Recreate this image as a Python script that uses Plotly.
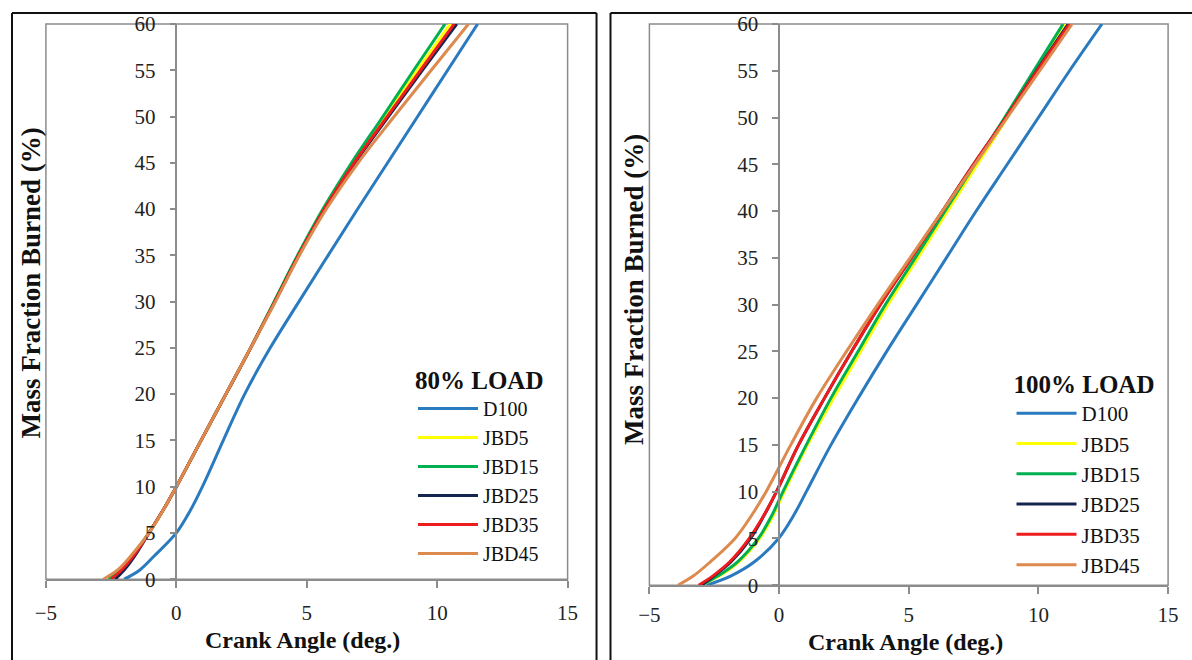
import plotly.graph_objects as go

W, H = 1192, 660
# The photographed page lands in the final picture slightly reduced and offset;
# layout positions below are given in final-picture pixels and mapped back to the page.
SX, OX = 0.984, 10.0
SY, OY = 0.965, 12.0

# ---------------- data ----------------
series_names = ["D100", "JBD5", "JBD15", "JBD25", "JBD35", "JBD45"]
series_colors = ["#2A7AC0", "#FFFF00", "#00B050", "#16254F", "#EE1C1C", "#DD8A4E"]

mfb_levels = [0, 1, 2.5, 5, 7.5, 10, 15, 20, 25, 30, 35, 40, 45, 50, 55, 60]  # Mass fraction burned (%)

# 80% load: crank angle (deg.) at each MFB level
ca80_D100 = [-2.0, -1.4, -0.85, 0.0, 0.55, 1.0, 1.8, 2.62, 3.6, 4.7, 5.82, 6.95, 8.1, 9.25, 10.4, 11.55]
ca80_JBD5 = [-2.7, -2.2, -1.7, -1.05, -0.5, 0.0, 0.95, 1.9, 2.85, 3.76, 4.67, 5.65, 6.77, 8.0, 9.24, 10.5]
ca80_JBD15 = [-2.6, -2.15, -1.7, -1.05, -0.5, 0.0, 0.95, 1.9, 2.85, 3.75, 4.65, 5.62, 6.72, 7.92, 9.1, 10.3]
ca80_JBD25 = [-2.35, -2.0, -1.6, -1.05, -0.5, 0.0, 0.95, 1.9, 2.85, 3.78, 4.69, 5.69, 6.85, 8.13, 9.43, 10.75]
ca80_JBD35 = [-2.5, -2.1, -1.65, -1.05, -0.5, 0.0, 0.95, 1.9, 2.85, 3.78, 4.69, 5.68, 6.82, 8.08, 9.36, 10.65]
ca80_JBD45 = [-2.8, -2.25, -1.75, -1.05, -0.5, 0.0, 0.95, 1.9, 2.85, 3.8, 4.72, 5.75, 6.97, 8.35, 9.77, 11.2]

# 100% load
ca100_D100 = [-2.8, -1.85, -0.95, -0.02, 0.57, 1.05, 2.0, 3.05, 4.15, 5.3, 6.45, 7.6, 8.8, 10.0, 11.2, 12.45]
ca100_JBD5 = [-3.0, -2.3, -1.55, -0.75, -0.22, 0.2, 1.1, 2.1, 3.15, 4.2, 5.35, 6.5, 7.65, 8.8, 9.92, 11.05]
ca100_JBD15 = [-3.0, -2.35, -1.6, -0.8, -0.27, 0.15, 1.05, 2.0, 3.05, 4.1, 5.25, 6.4, 7.55, 8.7, 9.82, 10.95]
ca100_JBD25 = [-3.0, -2.5, -1.85, -1.1, -0.57, -0.1, 0.75, 1.75, 2.8, 3.9, 5.1, 6.3, 7.5, 8.75, 9.93, 11.15]
ca100_JBD35 = [-3.1, -2.55, -1.9, -1.15, -0.58, -0.1, 0.75, 1.75, 2.8, 3.9, 5.1, 6.3, 7.5, 8.75, 9.95, 11.2]
ca100_JBD45 = [-3.9, -3.3, -2.65, -1.7, -1.05, -0.5, 0.45, 1.45, 2.6, 3.8, 5.05, 6.3, 7.55, 8.8, 10.05, 11.3]

ca80 = [ca80_D100, ca80_JBD5, ca80_JBD15, ca80_JBD25, ca80_JBD35, ca80_JBD45]
ca100 = [ca100_D100, ca100_JBD5, ca100_JBD15, ca100_JBD25, ca100_JBD35, ca100_JBD45]

x_ticks = [-5, 0, 5, 10, 15]
y_ticks = list(range(0, 61, 5))

FONT = "Liberation Serif"

# ---------------- layout geometry (picture pixels -> paper fractions) ----------------
def px(x):
    return ((x - OX) / SX) / W

def py(y):
    return 1 - ((y - OY) / SY) / H

L_x0, L_x1, L_y0, L_y1 = 45, 568, 24, 580
R_x0, R_x1, R_y0, R_y1 = 650, 1170, 24, 586

fig = go.Figure()

for name, col, xs in zip(series_names, series_colors, ca80):
    fig.add_trace(go.Scatter(x=xs, y=mfb_levels, mode="lines", name=name,
                             line=dict(color=col, width=3, shape="spline", smoothing=1.0),
                             xaxis="x", yaxis="y", legend="legend"))
for name, col, xs in zip(series_names, series_colors, ca100):
    fig.add_trace(go.Scatter(x=xs, y=mfb_levels, mode="lines", name=name,
                             line=dict(color=col, width=3, shape="spline", smoothing=1.0),
                             xaxis="x2", yaxis="y2", legend="legend2"))

axis_col = "#8C8C8C"
tickfont = dict(family=FONT, size=21, color="#222")

def xaxis_cfg(d0, d1, anchor, standoff):
    return dict(domain=[px(d0), px(d1)], range=[-5, 15], tickvals=x_ticks,
                showgrid=False, zeroline=False, showline=True, linecolor=axis_col, linewidth=1.5,
                ticks="outside", ticklen=7, tickcolor=axis_col, tickwidth=1.5,
                tickfont=tickfont, ticklabelstandoff=standoff, anchor=anchor, fixedrange=True)

def yaxis_cfg(d0, d1, xd0, xd1):
    pos = px(xd0 + (xd1 - xd0) * 0.25)
    return dict(domain=[py(d1), py(d0)], range=[0, 60], tickvals=y_ticks,
                showgrid=False, zeroline=False, showline=True, linecolor=axis_col, linewidth=1.5,
                ticks="outside", ticklen=6, tickcolor=axis_col, tickwidth=1.5,
                tickfont=tickfont, ticklabelstandoff=10, anchor="free", position=pos,
                fixedrange=True)

shapes = []
for (x0, x1, y0, y1) in [(L_x0, L_x1, L_y0, L_y1), (R_x0, R_x1, R_y0, R_y1)]:
    shapes.append(dict(type="rect", xref="paper", yref="paper",
                       x0=px(x0), x1=px(x1), y0=py(y1), y1=py(y0),
                       line=dict(color=axis_col, width=1.5), layer="below"))

# outer panel frames (visible sides only)
frame = dict(color="#111", width=2)
for (ax0, ay0, ax1, ay1) in [
    (11, 13, 11, 680), (11, 13, 597, 13), (597, 13, 597, 680),   # left panel
    (611, 13, 611, 680), (611, 13, 1200, 13),                    # right panel
]:
    shapes.append(dict(type="line", xref="paper", yref="paper",
                       x0=px(ax0), y0=py(ay0), x1=px(ax1), y1=py(ay1), line=frame))

ytitle_font = dict(family=FONT, size=27, color="#111")
xtitle_font = dict(family=FONT, size=24, color="#111")
ann_common = dict(xref="paper", yref="paper", showarrow=False, xanchor="center", yanchor="middle")
annotations = [
    dict(text="<b>Mass Fraction Burned (%)</b>", x=px(30), y=py(283), textangle=-90,
         font=ytitle_font, **ann_common),
    dict(text="<b>Mass Fraction Burned (%)</b>", x=px(634), y=py(290), textangle=-90,
         font=ytitle_font, **ann_common),
    dict(text="<b>Crank Angle (deg.)</b>", x=px(302), y=py(641), font=xtitle_font, **ann_common),
    dict(text="<b>Crank Angle (deg.)</b>", x=px(907), y=py(643), font=xtitle_font, **ann_common),
]

legend_tfont = dict(family=FONT, size=25, color="#111")

def legend_cfg(x, y, title, size):
    return dict(x=px(x), y=py(y), xanchor="left", yanchor="top", bgcolor="rgba(255,255,255,0)",
                font=dict(family=FONT, size=size, color="#111"),
                title=dict(text="<b>" + title + "</b>", font=legend_tfont),
                itemwidth=60, itemclick=False, itemdoubleclick=False)

fig.update_layout(
    width=W, height=H, margin=dict(l=0, r=0, t=0, b=0),
    paper_bgcolor="white", plot_bgcolor="white",
    xaxis=xaxis_cfg(L_x0, L_x1, "y", 7),
    yaxis=yaxis_cfg(L_y0, L_y1, L_x0, L_x1),
    xaxis2=xaxis_cfg(R_x0, R_x1, "y2", 3),
    yaxis2=yaxis_cfg(R_y0, R_y1, R_x0, R_x1),
    legend=legend_cfg(413, 357, "80% LOAD", 20),
    legend2=legend_cfg(1013, 361, "100% LOAD", 21),
    shapes=shapes, annotations=annotations, showlegend=True,
)

fig.write_html("out.html", config={"displayModeBar": False},
               post_script="document.body.style.margin='0';document.body.style.overflow='hidden';")
